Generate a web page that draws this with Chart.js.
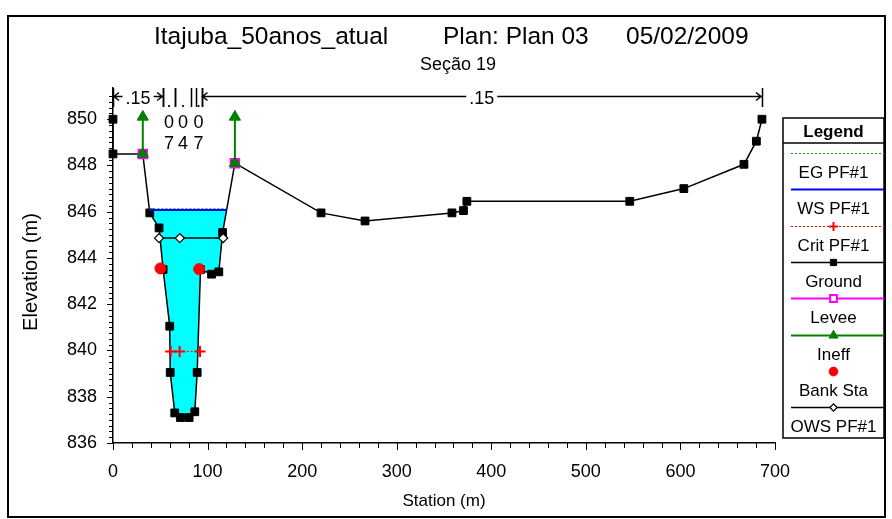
<!DOCTYPE html>
<html>
<head>
<meta charset="utf-8">
<script src="https://cdn.jsdelivr.net/npm/chart.js@4.4.0/dist/chart.umd.min.js"></script>
<style>
html, body { margin: 0; padding: 0; background: #fff; }
canvas { display: block; }
</style>
</head>
<body>
<canvas id="xsChart" width="892" height="519"></canvas>
<script>
// Ground profile, Seção 19 (station m / elevation m)
const groundSta  = [0, 0, 31.5, 38.9, 48.7, 53, 60, 60.5, 65.3, 71.4, 80.5, 86.5, 89, 92.5, 104.2, 111.9, 115.9, 128.9, 220, 266.5, 358.4, 370.6, 374.2, 546.4, 603.6, 667.2, 680.3, 686.2];
const groundElev = [850.0, 848.5, 848.5, 845.95, 845.3, 843.5, 841.05, 839.05, 837.3, 837.1, 837.1, 837.35, 839.05, 843.5, 843.3, 843.4, 845.1, 848.1, 845.95, 845.6, 845.95, 846.05, 846.45, 846.45, 847.0, 848.05, 849.05, 850.0];

// water surface / energy grade (PF#1)
const wsSta  = [38.5, 120.1];
const wsElev = [846.08, 846.08];
const egSta  = [38.5, 120.1];
const egElev = [846.13, 846.13];

const critSta  = [61, 70.5, 92];
const critElev = [839.96, 839.96, 839.96];

const owsSta  = [48.7, 70.6, 116.5];
const owsElev = [844.86, 844.86, 844.86];

const bankSta  = [50.2, 91.1];
const bankElev = [843.55, 843.52];

const leveeSta  = [31.5, 128.9];
const leveeElev = [848.5, 848.1];

// ineffective flow limits (station, base elev, top elev)
const ineffSta  = [31.5, 128.9];
const ineffBase = [848.5, 848.1];
const ineffTop  = [850.1, 850.1];

// Manning's n across the section
const nFrom  = [0, 53, 65.3, 87.3, 93.6];
const nTo    = [53, 65.3, 83, 93.6, 686.2];
const nValue = ['.15', '.07', '.04', '.07', '.15'];

const xTicks = [0, 100, 200, 300, 400, 500, 600, 700];
const yTicks = [836, 838, 840, 842, 844, 846, 848, 850];

const FONT = "'Liberation Sans', Arial, sans-serif";

const pts = (xs, ys) => xs.map((x, i) => ({ x: x, y: ys[i] }));

// water polygon: left edge, ground inside the channel, right edge
const waterPts = [{ x: wsSta[0], y: wsElev[0] }];
groundSta.forEach((s, i) => {
    if (s > wsSta[0] && s < wsSta[1]) waterPts.push({ x: s, y: groundElev[i] });
});
waterPts.push({ x: wsSta[1], y: wsElev[1] });

const ineffPts = [];
ineffSta.forEach((s, i) => {
    if (i > 0) ineffPts.push({ x: s, y: null });
    ineffPts.push({ x: s, y: ineffBase[i] }, { x: s, y: ineffTop[i] });
});

// small ticks on both axes
const axisTicks = {
    id: 'axisTicks',
    afterDraw(chart) {
        const { ctx, chartArea: a } = chart;
        const x = chart.scales.x, y = chart.scales.y;
        ctx.save();
        ctx.strokeStyle = '#000';
        ctx.lineWidth = 1;
        ctx.beginPath();
        for (let v = 0; v <= 700; v += 20) {
            const px = Math.round(x.getPixelForValue(v)) + 0.5;
            const len = v % 100 === 0 ? 7 : 5;
            ctx.moveTo(px, a.bottom);
            ctx.lineTo(px, a.bottom + len);
        }
        for (let i = 0; i <= 60; i++) {
            const py = Math.round(y.getPixelForValue(836 + i * 0.25)) + 0.5;
            const len = i % 8 === 0 ? 6 : 4;
            ctx.moveTo(a.left - len, py);
            ctx.lineTo(a.left, py);
        }
        ctx.stroke();
        ctx.restore();
    }
};

// titles, n-values, legend, frame
const decorations = {
    id: 'decorations',
    afterDraw(chart) {
        const ctx = chart.ctx;
        const x = chart.scales.x;
        ctx.save();
        ctx.fillStyle = '#000';
        ctx.strokeStyle = '#000';

        // frame
        ctx.lineWidth = 2;
        ctx.strokeRect(8, 16, 877, 501);

        // titles
        ctx.font = '24.5px ' + FONT;
        ctx.textBaseline = 'alphabetic';
        ctx.textAlign = 'left';
        ctx.fillText('Itajuba_50anos_atual', 154, 44);
        ctx.fillText('Plan: Plan 03', 443, 44);
        ctx.fillText('05/02/2009', 626, 44);
        ctx.font = '18px ' + FONT;
        ctx.textAlign = 'center';
        ctx.fillText('Seção 19', 458, 70);

        // axis titles
        ctx.font = '17px ' + FONT;
        ctx.fillText('Station (m)', 444, 506);
        ctx.save();
        ctx.font = '20px ' + FONT;
        ctx.translate(37, 272);
        ctx.rotate(-Math.PI / 2);
        ctx.fillText('Elevation (m)', 0, 0);
        ctx.restore();

        // Manning's n dimension lines
        const lineY = 96.5;
        ctx.lineWidth = 1.5;
        ctx.font = '18px ' + FONT;
        nFrom.forEach((s, i) => {
            const p1 = x.getPixelForValue(s), p2 = x.getPixelForValue(nTo[i]);
            ctx.beginPath();
            ctx.moveTo(Math.round(p1) + 0.5, 88); ctx.lineTo(Math.round(p1) + 0.5, 107);
            ctx.moveTo(Math.round(p2) + 0.5, 88); ctx.lineTo(Math.round(p2) + 0.5, 107);
            ctx.stroke();
            const mid = (p1 + p2) / 2;
            if (p2 - p1 > 40) {
                const w = ctx.measureText(nValue[i]).width;
                ctx.beginPath();
                ctx.moveTo(p1, lineY); ctx.lineTo(mid - w / 2 - 3, lineY);
                ctx.moveTo(mid + w / 2 + 3, lineY); ctx.lineTo(p2, lineY);
                ctx.moveTo(p1 + 6, lineY - 4); ctx.lineTo(p1 + 1, lineY); ctx.lineTo(p1 + 6, lineY + 4);
                ctx.moveTo(p2 - 6, lineY - 4); ctx.lineTo(p2 - 1, lineY); ctx.lineTo(p2 - 6, lineY + 4);
                ctx.stroke();
                ctx.textAlign = 'center';
                ctx.fillText(nValue[i], mid, lineY + 7);
            } else {
                ctx.textAlign = 'center';
                const chars = nValue[i].split('');
                chars.forEach((c, k) => ctx.fillText(c, mid, 107 + k * 21));
            }
        });

        // legend box
        const lx = 783, lw = 101, ltop = 118, lbot = 438, cx = lx + lw / 2;
        ctx.lineWidth = 1.5;
        ctx.strokeRect(lx, ltop, lw, lbot - ltop);
        ctx.beginPath();
        ctx.moveTo(lx, 143); ctx.lineTo(lx + lw, 143);
        ctx.stroke();
        ctx.font = 'bold 17px ' + FONT;
        ctx.textAlign = 'center';
        ctx.fillText('Legend', cx, 137);

        const order = ['EG PF#1', 'WS PF#1', 'Crit PF#1', 'Ground', 'Levee', 'Ineff', 'Bank Sta', 'OWS PF#1'];
        order.forEach((name, k) => {
            const ds = chart.data.datasets.find(d => d.label === name);
            const ly = Math.round(153 + k * 36.3) + 0.5;
            if (ds.legendLine !== false) {
                ctx.save();
                ctx.strokeStyle = ds.borderColor;
                ctx.lineWidth = ds.borderWidth;
                ctx.setLineDash(ds.borderDash || []);
                ctx.beginPath();
                ctx.moveTo(lx + 8, ly); ctx.lineTo(lx + lw, ly);
                ctx.stroke();
                ctx.restore();
            }
            if (ds.pointRadius > 0 && ds.pointStyle) {
                ctx.save();
                ctx.fillStyle = ds.pointStyle === 'rect' && name === 'Levee' ? '#fff' : ds.pointBackgroundColor;
                ctx.strokeStyle = ds.pointBorderColor;
                ctx.lineWidth = ds.pointBorderWidth;
                Chart.helpers.drawPoint(ctx, { pointStyle: ds.pointStyle, radius: ds.pointRadius * 0.8, rotation: 0, borderWidth: ds.pointBorderWidth }, cx, ly);
                ctx.restore();
            }
            ctx.font = '17px ' + FONT;
            ctx.fillStyle = '#000';
            ctx.fillText(name, cx, ly + 24);
        });

        ctx.restore();
    }
};

const ctx = document.getElementById('xsChart').getContext('2d');
new Chart(ctx, {
    type: 'line',
    data: {
        datasets: [
            {
                label: 'Bank Sta', data: pts(bankSta, bankElev), showLine: false, legendLine: false,
                pointStyle: 'circle', pointRadius: 5.5, pointBackgroundColor: '#ff0000',
                pointBorderColor: '#ff0000', pointBorderWidth: 1, borderColor: '#ff0000', borderWidth: 1
            },
            {
                label: 'Ineff', data: ineffPts, borderColor: '#008000', borderWidth: 2, spanGaps: false,
                pointStyle: 'triangle', pointRadius: 6.5, pointBackgroundColor: '#008000',
                pointBorderColor: '#008000', pointBorderWidth: 1
            },
            {
                label: 'Levee', data: pts(leveeSta, leveeElev), showLine: false, borderColor: '#ff00ff', borderWidth: 2,
                pointStyle: 'rect', pointRadius: 6, pointBackgroundColor: 'rgba(0,0,0,0)',
                pointBorderColor: '#ff00ff', pointBorderWidth: 2
            },
            {
                label: 'OWS PF#1', data: pts(owsSta, owsElev), borderColor: '#000', borderWidth: 1.5,
                pointStyle: 'rectRot', pointRadius: 4.5, pointBackgroundColor: '#fff',
                pointBorderColor: '#000', pointBorderWidth: 1.3
            },
            {
                label: 'Crit PF#1', data: pts(critSta, critElev), borderColor: '#ff0000', borderWidth: 1,
                borderDash: [2, 2], pointStyle: 'cross', pointRadius: 5.5, pointBackgroundColor: '#ff0000',
                pointBorderColor: '#ff0000', pointBorderWidth: 2
            },
            {
                label: 'WS PF#1', data: pts(wsSta, wsElev), borderColor: '#0000ff', borderWidth: 2,
                pointRadius: 0
            },
            {
                label: 'EG PF#1', data: pts(egSta, egElev), borderColor: '#00a000', borderWidth: 1,
                borderDash: [2, 2], pointRadius: 0
            },
            {
                label: 'Ground', data: pts(groundSta, groundElev), borderColor: '#000', borderWidth: 1.5,
                pointStyle: 'rect', pointRadius: 5.5, pointBackgroundColor: '#000',
                pointBorderColor: '#000', pointBorderWidth: 1, clip: false
            },
            {
                label: 'water', data: waterPts, borderWidth: 0, borderColor: 'rgba(0,0,0,0)',
                backgroundColor: '#00ffff', fill: { value: wsElev[0] }, pointRadius: 0
            }
        ]
    },
    options: {
        responsive: false,
        animation: false,
        devicePixelRatio: 1,
        layout: { padding: { left: 0, right: 117, top: 88, bottom: 36 } },
        plugins: { legend: { display: false }, tooltip: { enabled: false } },
        scales: {
            x: {
                type: 'linear', min: 0, max: 700,
                grid: { display: false },
                border: { color: '#000', width: 1.5 },
                afterBuildTicks: s => { s.ticks = xTicks.map(v => ({ value: v })); },
                ticks: { font: { family: FONT, size: 18 }, color: '#000', padding: 10, maxRotation: 0 },
                afterFit: s => { s.height = 40; }
            },
            y: {
                type: 'linear', min: 836, max: 851.35,
                grid: { display: false },
                border: { color: '#000', width: 1.5 },
                afterBuildTicks: s => { s.ticks = yTicks.map(v => ({ value: v })); },
                ticks: { font: { family: FONT, size: 18 }, color: '#000', padding: 8 },
                afterFit: s => { s.width = 113; }
            }
        }
    },
    plugins: [axisTicks, decorations]
});
</script>
</body>
</html>
